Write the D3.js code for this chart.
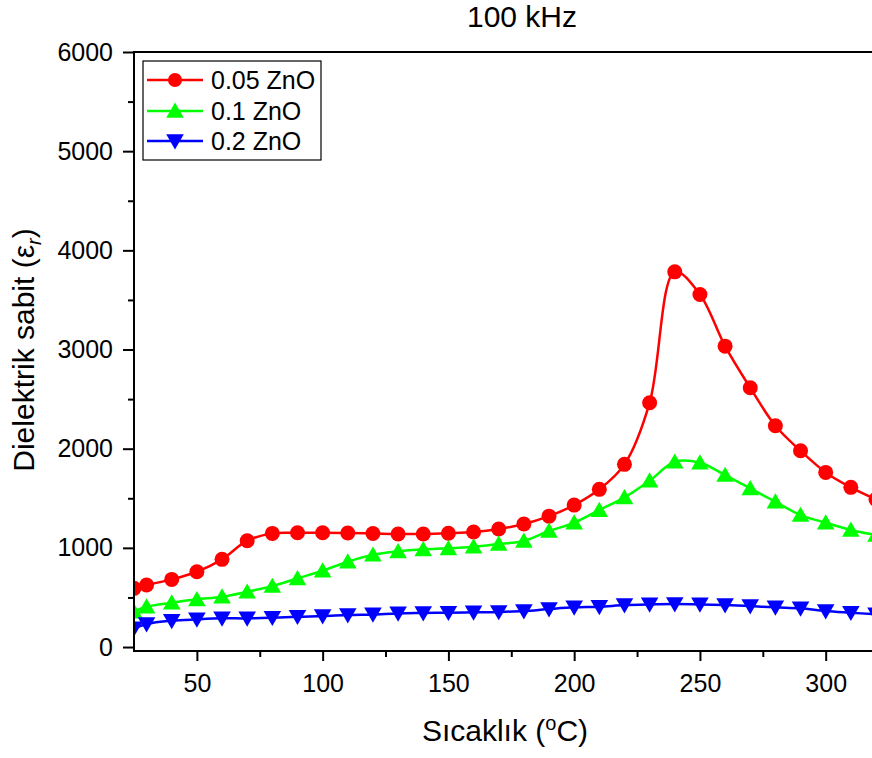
<!DOCTYPE html>
<html>
<head>
<meta charset="utf-8">
<script src="https://cdn.jsdelivr.net/npm/d3@7"></script>
<style>
  html, body { margin: 0; padding: 0; background: #fff; }
  svg { display: block; font-family: Arial, "Liberation Sans", sans-serif; }
</style>
</head>
<body>
<svg id="chart" width="872" height="758"></svg>
<script>
// Temperature (°C) of each measurement
const temperatures = [25, 30, 40, 50, 60, 70, 80, 90, 100, 110, 120, 130, 140, 150, 160, 170,
  180, 190, 200, 210, 220, 230, 240, 250, 260, 270, 280, 290, 300, 310, 320];

// Dielectric constant at 100 kHz for each ZnO content
const zno005 = [592, 625, 682, 759, 884, 1072, 1146, 1152, 1152, 1150, 1145, 1140, 1140, 1148, 1160, 1190,
  1240, 1320, 1431, 1590, 1842, 2463, 3783, 3555, 3034, 2614, 2231, 1979, 1761, 1610, 1489];
const zno01 = [356, 406, 447, 481, 507, 557, 615, 692, 769, 860, 930, 965, 985, 995, 1012, 1040,
  1070, 1170, 1253, 1381, 1509, 1677, 1868, 1858, 1734, 1600, 1465, 1331, 1253, 1180, 1129];
const zno02 = [188, 232, 265, 279, 289, 289, 296, 306, 312, 323, 329, 339, 343, 346, 350, 354,
  363, 383, 400, 406, 423, 430, 433, 430, 423, 413, 400, 390, 363, 346, 330];

const seriesNames = ["0.05 ZnO", "0.1 ZnO", "0.2 ZnO"];
const seriesColors = ["#ff0000", "#00ff00", "#0000ff"];
const seriesSymbols = ["circle", "triangleUp", "triangleDown"];

const xTicks = [50, 100, 150, 200, 250, 300];
const xMinorTicks = [75, 125, 175, 225, 275];
const yTicks = [0, 1000, 2000, 3000, 4000, 5000, 6000];
const yMinorTicks = [500, 1500, 2500, 3500, 4500, 5500];

const titleText = "100 kHz";

const svg = d3.select("#chart");
const plotLeft = 134, plotTop = 52, plotRight = 876, plotBottom = 651;

const x = d3.scaleLinear().domain([25, 320]).range([plotLeft, plotRight]);
const y = d3.scaleLinear().domain([-40, 6000]).range([plotBottom, plotTop]);

// clip region for the data area
svg.append("defs").append("clipPath").attr("id", "plotClip")
  .append("rect").attr("x", plotLeft).attr("y", plotTop)
  .attr("width", plotRight - plotLeft).attr("height", plotBottom - plotTop);

// symbol path generators
function symbolPath(kind, s) {
  if (kind === "circle") {
    return `M${-s},0A${s},${s} 0 1,0 ${s},0A${s},${s} 0 1,0 ${-s},0Z`;
  }
  const h = s * 1.0, w = s * 1.1;
  if (kind === "triangleUp") return `M0,${-h * 1.05}L${w},${h * 0.85}L${-w},${h * 0.85}Z`;
  return `M0,${h * 1.05}L${w},${-h * 0.85}L${-w},${-h * 0.85}Z`;
}

const seriesData = [zno005, zno01, zno02].map((vals, i) => ({
  name: seriesNames[i], color: seriesColors[i], symbol: seriesSymbols[i],
  points: temperatures.map((t, j) => ({ t, v: vals[j] }))
}));

const line = d3.line()
  .x(d => x(d.t)).y(d => y(d.v))
  .curve(d3.curveCatmullRom.alpha(0.5));

const plot = svg.append("g").attr("clip-path", "url(#plotClip)");
seriesData.forEach(s => {
  const g = plot.append("g");
  g.append("path").attr("d", line(s.points))
    .attr("fill", "none").attr("stroke", s.color).attr("stroke-width", 2.5);
  g.selectAll("path.sym").data(s.points).join("path").attr("class", "sym")
    .attr("transform", d => `translate(${x(d.t)},${y(d.v)})`)
    .attr("d", symbolPath(s.symbol, s.symbol === "circle" ? 7.5 : 8))
    .attr("fill", s.color);
});

// axes
svg.append("g").attr("transform", `translate(${plotLeft},0)`)
  .call(d3.axisLeft(y).tickValues(yTicks).tickSize(11).tickPadding(10).tickFormat(d3.format("d")));
svg.append("g").attr("transform", `translate(${plotLeft},0)`)
  .call(d3.axisLeft(y).tickValues(yMinorTicks).tickSize(6).tickFormat(""));
svg.append("g").attr("transform", `translate(0,${plotBottom})`)
  .call(d3.axisBottom(x).tickValues(xTicks).tickSize(10).tickPadding(13).tickFormat(d3.format("d")));
svg.append("g").attr("transform", `translate(0,${plotBottom})`)
  .call(d3.axisBottom(x).tickValues(xMinorTicks).tickSize(6).tickFormat(""));

svg.selectAll(".domain").remove();
svg.selectAll(".tick line").attr("stroke", "#000").attr("stroke-width", 2);
svg.selectAll(".tick text").attr("font-size", 25).attr("fill", "#000")
  .attr("font-family", "Arial, 'Liberation Sans', sans-serif");

// frame lines: left, bottom, top
svg.append("line").attr("x1", plotLeft).attr("x2", plotLeft).attr("y1", plotTop - 1).attr("y2", plotBottom + 1)
  .attr("stroke", "#000").attr("stroke-width", 2);
svg.append("line").attr("x1", plotLeft).attr("x2", 872).attr("y1", plotBottom).attr("y2", plotBottom)
  .attr("stroke", "#000").attr("stroke-width", 2);
svg.append("line").attr("x1", plotLeft).attr("x2", 872).attr("y1", plotTop).attr("y2", plotTop)
  .attr("stroke", "#000").attr("stroke-width", 2);

// title
svg.append("text").attr("x", 522).attr("y", 27).attr("text-anchor", "middle")
  .attr("font-size", 30).attr("fill", "#000").text(titleText);

// x axis title
const xt = svg.append("text").attr("x", 505).attr("y", 741).attr("text-anchor", "middle")
  .attr("font-size", 30).attr("fill", "#000");
xt.append("tspan").text("Sıcaklık (");
xt.append("tspan").attr("dy", -11).attr("font-size", 20).text("o");
xt.append("tspan").attr("dy", 11).text("C)");

// y axis title
const yt = svg.append("text").attr("transform", "translate(34,350) rotate(-90)")
  .attr("text-anchor", "middle").attr("font-size", 30).attr("fill", "#000");
yt.append("tspan").text("Dielektrik sabit (");
yt.append("tspan").text("ε");
yt.append("tspan").attr("dy", 7).attr("font-size", 20).attr("font-style", "italic").text("r");
yt.append("tspan").attr("dy", -7).text(")");

// legend
const lg = svg.append("g");
lg.append("rect").attr("x", 143).attr("y", 61).attr("width", 178).attr("height", 99)
  .attr("fill", "#fff").attr("stroke", "#000").attr("stroke-width", 1.2);
const rowY = [80, 111, 141];
seriesData.forEach((s, i) => {
  const g = lg.append("g").attr("transform", `translate(0,${rowY[i]})`);
  g.append("line").attr("x1", 147).attr("x2", 203).attr("y1", 0).attr("y2", 0)
    .attr("stroke", s.color).attr("stroke-width", 2.5);
  g.append("path").attr("transform", "translate(175,0)")
    .attr("d", symbolPath(s.symbol, s.symbol === "circle" ? 7 : 8)).attr("fill", s.color);
  g.append("text").attr("x", 211).attr("y", 9).attr("font-size", 25).attr("fill", "#000").text(s.name);
});
</script>
</body>
</html>
